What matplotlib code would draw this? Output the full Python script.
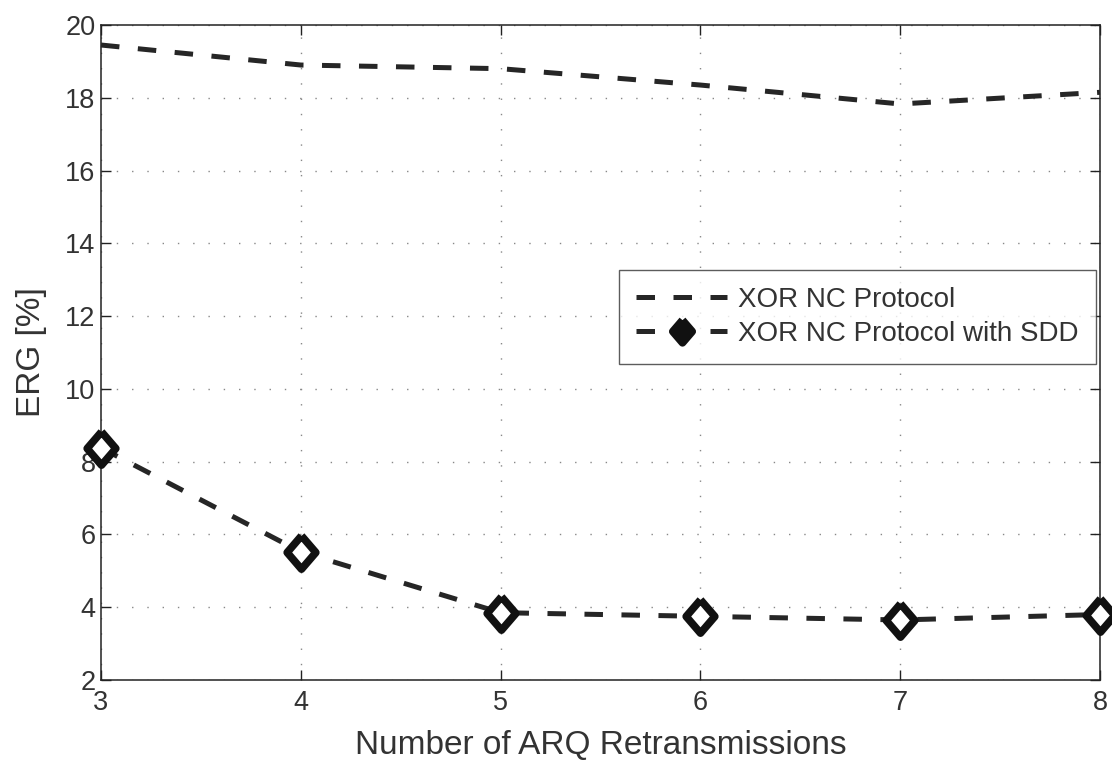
import matplotlib
matplotlib.use("Agg")
import matplotlib.pyplot as plt

# ARQ retransmission counts and ERG values (%)
retransmissions = [3, 4, 5, 6, 7, 8]
erg_xor_nc = [19.45, 18.9, 18.8, 18.35, 17.83, 18.15]
erg_xor_nc_sdd = [8.38, 5.52, 3.85, 3.75, 3.65, 3.8]

x_ticks = [3, 4, 5, 6, 7, 8]
y_ticks = [2, 4, 6, 8, 10, 12, 14, 16, 18, 20]

plt.rcParams['font.family'] = ['Liberation Sans', 'DejaVu Sans']

fig = plt.figure(figsize=(11.12, 7.62), dpi=100)
ax = fig.add_axes([101 / 1112, 1 - 680 / 762, 999 / 1112, 655 / 762])

line_color = '#262626'
dash = (0, (3.7, 3.7))
# slightly tall diamond
diamond = [(0, 1), (0.86, 0), (0, -1), (-0.86, 0), (0, 1)]

ax.plot(retransmissions, erg_xor_nc, color=line_color, lw=3.6, ls=dash,
        label='XOR NC Protocol', clip_on=False, zorder=3)
ax.plot(retransmissions, erg_xor_nc_sdd, color=line_color, lw=3.6, ls=dash,
        marker=diamond, markersize=24, markeredgewidth=5.5,
        markerfacecolor='white', markeredgecolor='#111111',
        label='XOR NC Protocol with SDD', clip_on=False, zorder=4)

ax.set_xlim(3, 8)
ax.set_ylim(2, 20)
ax.set_xticks(x_ticks)
ax.set_yticks(y_ticks)

ax.grid(True, color='#888888', ls=(0, (1, 10)), lw=1.0)
ax.tick_params(direction='in', length=7, width=1, colors='#222222',
               labelsize=19.5, top=True, right=True)
ax.tick_params(axis='x', pad=7)
ax.tick_params(axis='y', pad=4)
for lab in ax.get_xticklabels() + ax.get_yticklabels():
    lab.set_color('#333333')
for s in ax.spines.values():
    s.set_color('#222222')
    s.set_linewidth(1.1)

ax.set_xlabel('Number of ARQ Retransmissions', fontsize=24, color='#333333',
              labelpad=10)
ax.set_ylabel('ERG [%]', fontsize=24, color='#333333', labelpad=13)

leg = ax.legend(loc='upper left', bbox_to_anchor=(518 / 999, 1 - 245 / 655),
                fontsize=20, frameon=True, fancybox=False, handlelength=3.3,
                borderpad=0.6, labelspacing=0.3, handletextpad=0.4,
                borderaxespad=0, markerscale=0.68)
leg.get_frame().set_edgecolor('#333333')
leg.get_frame().set_linewidth(1.0)
for t in leg.get_texts():
    t.set_color('#333333')
leg.get_lines()[1].set_markerfacecolor('#111111')

fig.savefig('out.png', dpi=100, facecolor='white')
